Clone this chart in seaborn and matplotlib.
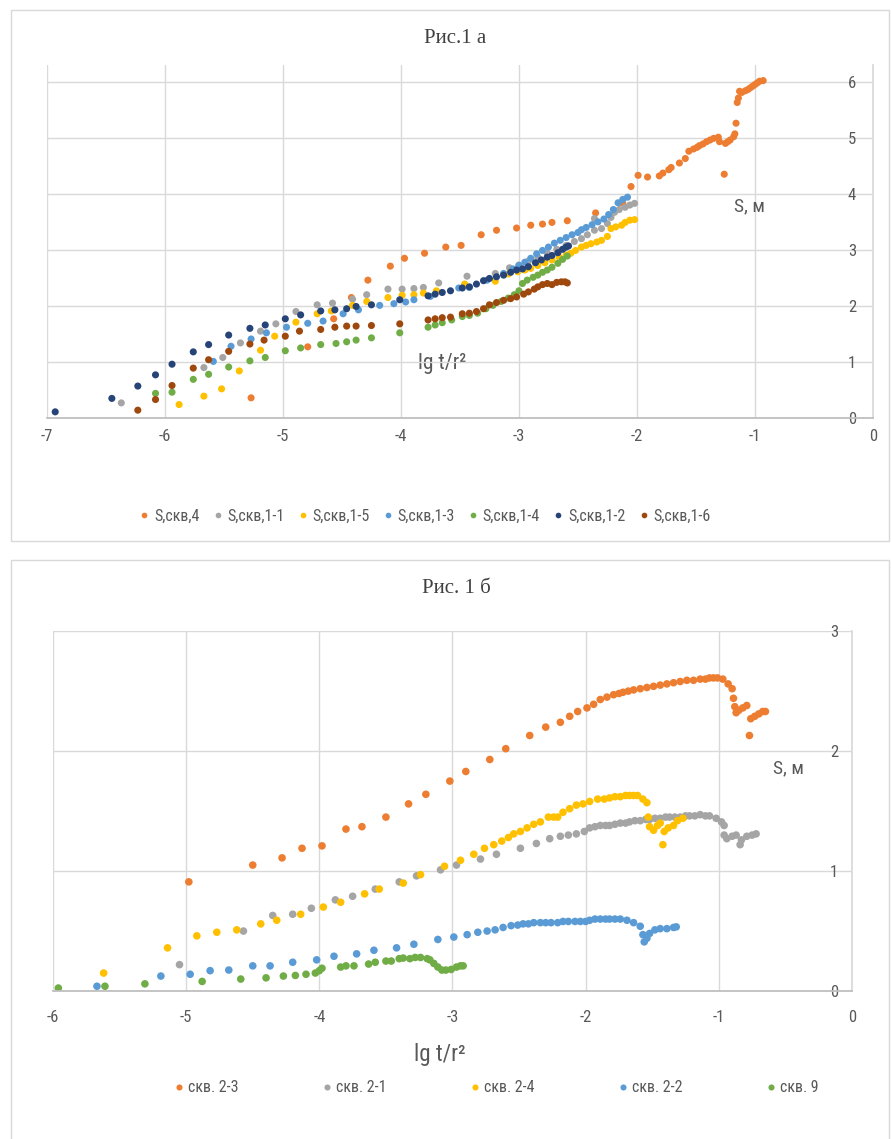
import numpy as np
import pandas as pd
import matplotlib
matplotlib.use("Agg")
import matplotlib.pyplot as plt
from matplotlib.patches import Rectangle
import seaborn as sns

# ---------- data, panel "a" (lg t/r^2, S m) ----------
names_a = ["S,скв,4", "S,скв,1-1", "S,скв,1-5", "S,скв,1-3",
           "S,скв,1-4", "S,скв,1-2", "S,скв,1-6"]
colors_a = ["#ED7D31", "#A5A5A5", "#FFC000", "#5B9BD5",
            "#70AD47", "#264478", "#9E480E"]

s4 = [(-5.27, 0.36), (-4.79, 1.27), (-4.57, 1.77), (-4.42, 2.15), (-4.28, 2.46),
      (-4.09, 2.71), (-3.97, 2.85), (-3.80, 2.94), (-3.62, 3.05), (-3.49, 3.08),
      (-3.32, 3.27), (-3.19, 3.35), (-3.02, 3.39), (-2.90, 3.44), (-2.80, 3.46),
      (-2.72, 3.49), (-2.59, 3.52), (-2.35, 3.66), (-2.12, 3.83), (-2.05, 4.13),
      (-1.99, 4.33), (-1.91, 4.30), (-1.81, 4.32), (-1.78, 4.37), (-1.73, 4.43),
      (-1.71, 4.47), (-1.64, 4.55), (-1.59, 4.63), (-1.56, 4.76), (-1.52, 4.80),
      (-1.49, 4.83), (-1.47, 4.86), (-1.44, 4.89), (-1.41, 4.93), (-1.38, 4.96),
      (-1.35, 4.99), (-1.31, 5.01), (-1.30, 4.93), (-1.26, 4.35), (-1.25, 4.90),
      (-1.23, 4.93), (-1.21, 4.96), (-1.18, 5.02), (-1.17, 5.07), (-1.16, 5.26),
      (-1.15, 5.63), (-1.14, 5.71), (-1.13, 5.83), (-1.11, 5.81), (-1.08, 5.84),
      (-1.06, 5.86), (-1.04, 5.89), (-1.02, 5.92), (-1.00, 5.95), (-0.98, 5.98),
      (-0.96, 6.01), (-0.93, 6.02)]
s11 = [(-6.37, 0.27), (-5.67, 0.90), (-5.51, 1.08), (-5.36, 1.34), (-5.19, 1.55),
       (-5.06, 1.68), (-4.89, 1.90), (-4.71, 2.02), (-4.58, 2.05), (-4.41, 2.12),
       (-4.29, 2.20), (-4.11, 2.30), (-3.99, 2.30), (-3.89, 2.31), (-3.81, 2.33),
       (-3.68, 2.41), (-3.44, 2.53), (-3.20, 2.58), (-3.08, 2.68), (-3.00, 2.73),
       (-2.92, 2.80), (-2.84, 2.87), (-2.76, 2.94), (-2.68, 3.01), (-2.60, 3.08),
       (-2.53, 3.15), (-2.47, 3.20), (-2.42, 3.27), (-2.36, 3.35), (-2.36, 3.56),
       (-2.30, 3.38), (-2.25, 3.47), (-2.22, 3.58), (-2.19, 3.67), (-2.15, 3.72),
       (-2.10, 3.76), (-2.06, 3.80), (-2.02, 3.83)]
s15 = [(-5.88, 0.24), (-5.67, 0.39), (-5.52, 0.52), (-5.37, 0.84), (-5.19, 1.21),
       (-5.07, 1.46), (-4.89, 1.71), (-4.71, 1.86), (-4.59, 1.91), (-4.41, 2.01),
       (-4.29, 2.08), (-4.11, 2.15), (-3.99, 2.19), (-3.89, 2.20), (-3.81, 2.23),
       (-3.70, 2.27), (-3.46, 2.39), (-3.20, 2.44), (-3.09, 2.57), (-3.01, 2.61),
       (-2.95, 2.64), (-2.90, 2.67), (-2.84, 2.72), (-2.78, 2.77), (-2.72, 2.82),
       (-2.66, 2.87), (-2.60, 2.91), (-2.56, 2.94), (-2.52, 2.99), (-2.47, 3.05),
       (-2.43, 3.08), (-2.39, 3.11), (-2.34, 3.14), (-2.30, 3.17), (-2.25, 3.24),
       (-2.22, 3.38), (-2.18, 3.41), (-2.13, 3.44), (-2.10, 3.49), (-2.06, 3.53),
       (-2.02, 3.54)]
s13 = [(-5.59, 1.01), (-5.44, 1.28), (-5.27, 1.41), (-5.14, 1.52), (-4.97, 1.62),
       (-4.79, 1.69), (-4.66, 1.73), (-4.49, 1.86), (-4.36, 1.93), (-4.18, 2.01),
       (-4.06, 2.04), (-3.96, 2.07), (-3.89, 2.11), (-3.75, 2.17), (-3.51, 2.32),
       (-3.42, 2.33), (-3.27, 2.46), (-3.13, 2.58), (-3.05, 2.66), (-3.00, 2.72),
       (-2.95, 2.78), (-2.90, 2.85), (-2.85, 2.93), (-2.80, 2.99), (-2.75, 3.05),
       (-2.70, 3.12), (-2.65, 3.17), (-2.60, 3.22), (-2.55, 3.27), (-2.50, 3.31),
       (-2.47, 3.36), (-2.43, 3.40), (-2.38, 3.45), (-2.33, 3.50), (-2.28, 3.55),
       (-2.24, 3.63), (-2.20, 3.72), (-2.16, 3.84), (-2.12, 3.90), (-2.08, 3.94)]
s14 = [(-6.08, 0.44), (-5.94, 0.46), (-5.76, 0.69), (-5.63, 0.78), (-5.46, 0.91),
       (-5.28, 1.02), (-5.15, 1.08), (-4.98, 1.20), (-4.85, 1.25), (-4.68, 1.31),
       (-4.55, 1.33), (-4.46, 1.36), (-4.38, 1.39), (-4.25, 1.43), (-4.01, 1.52),
       (-3.77, 1.62), (-3.71, 1.66), (-3.65, 1.70), (-3.57, 1.75), (-3.48, 1.81),
       (-3.42, 1.83), (-3.35, 1.87), (-3.28, 1.95), (-3.22, 2.01), (-3.15, 2.08),
       (-3.09, 2.14), (-3.04, 2.20), (-3.00, 2.27), (-2.97, 2.40), (-2.93, 2.46),
       (-2.88, 2.51), (-2.84, 2.55), (-2.80, 2.60), (-2.76, 2.64), (-2.72, 2.69),
       (-2.67, 2.76), (-2.63, 2.83), (-2.59, 2.89)]
s12 = [(-6.93, 0.11), (-6.45, 0.35), (-6.23, 0.57), (-6.08, 0.77), (-5.94, 0.96),
       (-5.76, 1.18), (-5.63, 1.31), (-5.46, 1.48), (-5.28, 1.60), (-5.15, 1.66),
       (-4.98, 1.77), (-4.85, 1.84), (-4.68, 1.91), (-4.56, 1.93), (-4.46, 1.95),
       (-4.38, 1.99), (-4.25, 2.02), (-4.01, 2.11), (-3.77, 2.18), (-3.71, 2.21),
       (-3.65, 2.24), (-3.58, 2.27), (-3.48, 2.32), (-3.42, 2.34), (-3.36, 2.39),
       (-3.30, 2.45), (-3.25, 2.49), (-3.19, 2.52), (-3.13, 2.55), (-3.07, 2.60),
       (-3.02, 2.64), (-2.97, 2.66), (-2.92, 2.70), (-2.86, 2.77), (-2.81, 2.82),
       (-2.76, 2.87), (-2.72, 2.90), (-2.67, 2.95), (-2.63, 3.01), (-2.60, 3.05),
       (-2.58, 3.07)]
s16 = [(-6.23, 0.14), (-6.08, 0.33), (-5.94, 0.58), (-5.76, 0.89), (-5.63, 1.04),
       (-5.46, 1.19), (-5.28, 1.32), (-5.16, 1.39), (-4.98, 1.46), (-4.86, 1.55),
       (-4.68, 1.58), (-4.56, 1.62), (-4.46, 1.64), (-4.38, 1.64), (-4.25, 1.65),
       (-4.01, 1.68), (-3.77, 1.75), (-3.71, 1.77), (-3.65, 1.79), (-3.58, 1.80),
       (-3.48, 1.86), (-3.42, 1.87), (-3.36, 1.90), (-3.30, 1.95), (-3.25, 2.02),
       (-3.19, 2.06), (-3.13, 2.10), (-3.07, 2.13), (-3.02, 2.16), (-2.96, 2.21),
       (-2.92, 2.25), (-2.87, 2.30), (-2.84, 2.34), (-2.80, 2.38), (-2.76, 2.40),
       (-2.72, 2.38), (-2.68, 2.42), (-2.64, 2.43), (-2.61, 2.43), (-2.59, 2.41)]
series_a = [s4, s11, s15, s13, s14, s12, s16]

# ---------- data, panel "б" ----------
names_b = ["скв. 2-3", "скв. 2-1", "скв. 2-4", "скв. 2-2", "скв. 9"]
colors_b = ["#ED7D31", "#A5A5A5", "#FFC000", "#5B9BD5", "#70AD47"]

w23 = [(-4.98, 0.91), (-4.50, 1.05), (-4.28, 1.11), (-4.13, 1.19), (-3.98, 1.21),
       (-3.80, 1.35), (-3.68, 1.37), (-3.50, 1.45), (-3.33, 1.56), (-3.20, 1.64),
       (-3.02, 1.75), (-2.90, 1.83), (-2.72, 1.93), (-2.60, 2.02), (-2.42, 2.13),
       (-2.30, 2.20), (-2.19, 2.24), (-2.12, 2.29), (-2.06, 2.33), (-1.99, 2.36),
       (-1.94, 2.39), (-1.89, 2.43), (-1.84, 2.45), (-1.79, 2.47), (-1.75, 2.48),
       (-1.72, 2.49), (-1.68, 2.50), (-1.64, 2.51), (-1.59, 2.52), (-1.54, 2.53),
       (-1.49, 2.54), (-1.44, 2.55), (-1.39, 2.56), (-1.34, 2.57), (-1.29, 2.58),
       (-1.24, 2.59), (-1.19, 2.59), (-1.14, 2.60), (-1.10, 2.60), (-1.07, 2.61),
       (-1.04, 2.61), (-1.01, 2.61), (-0.97, 2.60), (-0.93, 2.56), (-0.90, 2.52),
       (-0.89, 2.44), (-0.88, 2.37), (-0.87, 2.32), (-0.85, 2.34), (-0.82, 2.36),
       (-0.79, 2.38), (-0.77, 2.13), (-0.76, 2.27), (-0.73, 2.29), (-0.70, 2.31),
       (-0.67, 2.33), (-0.65, 2.33)]
w21 = [(-5.05, 0.22), (-4.57, 0.50), (-4.35, 0.63), (-4.20, 0.64), (-4.06, 0.69),
       (-3.88, 0.76), (-3.75, 0.79), (-3.58, 0.85), (-3.40, 0.91), (-3.27, 0.96),
       (-3.09, 1.01), (-2.97, 1.05), (-2.79, 1.10), (-2.67, 1.14), (-2.49, 1.19),
       (-2.37, 1.23), (-2.27, 1.27), (-2.19, 1.29), (-2.13, 1.30), (-2.07, 1.31),
       (-2.01, 1.33), (-1.97, 1.36), (-1.93, 1.37), (-1.89, 1.38), (-1.85, 1.38),
       (-1.82, 1.38), (-1.78, 1.39), (-1.74, 1.40), (-1.70, 1.40), (-1.67, 1.41),
       (-1.63, 1.42), (-1.59, 1.42), (-1.55, 1.43), (-1.52, 1.43), (-1.48, 1.44),
       (-1.44, 1.44), (-1.40, 1.45), (-1.37, 1.45), (-1.33, 1.45), (-1.29, 1.45),
       (-1.25, 1.46), (-1.22, 1.46), (-1.18, 1.46), (-1.14, 1.47), (-1.10, 1.46),
       (-1.07, 1.46), (-1.02, 1.44), (-0.98, 1.41), (-0.96, 1.38), (-0.96, 1.30),
       (-0.94, 1.27), (-0.90, 1.29), (-0.87, 1.30), (-0.84, 1.22), (-0.83, 1.26),
       (-0.79, 1.29), (-0.75, 1.30), (-0.72, 1.31)]
w24 = [(-5.62, 0.15), (-5.14, 0.36), (-4.92, 0.46), (-4.77, 0.49), (-4.62, 0.51),
       (-4.44, 0.56), (-4.32, 0.59), (-4.14, 0.64), (-3.97, 0.70), (-3.84, 0.74),
       (-3.66, 0.81), (-3.55, 0.85), (-3.37, 0.90), (-3.24, 0.97), (-3.06, 1.04),
       (-2.94, 1.09), (-2.84, 1.14), (-2.76, 1.19), (-2.69, 1.22), (-2.63, 1.25),
       (-2.58, 1.28), (-2.54, 1.31), (-2.49, 1.33), (-2.44, 1.36), (-2.39, 1.39),
       (-2.34, 1.41), (-2.28, 1.45), (-2.24, 1.45), (-2.21, 1.45), (-2.17, 1.49),
       (-2.12, 1.52), (-2.07, 1.55), (-2.02, 1.56), (-1.97, 1.58), (-1.91, 1.60),
       (-1.86, 1.60), (-1.82, 1.61), (-1.78, 1.62), (-1.74, 1.62), (-1.70, 1.63),
       (-1.67, 1.63), (-1.64, 1.63), (-1.61, 1.63), (-1.57, 1.60), (-1.54, 1.57),
       (-1.53, 1.45), (-1.52, 1.37), (-1.49, 1.34), (-1.46, 1.38), (-1.44, 1.40),
       (-1.42, 1.22), (-1.41, 1.33), (-1.38, 1.36), (-1.34, 1.38), (-1.31, 1.42),
       (-1.27, 1.44)]
w22 = [(-5.67, 0.04), (-5.19, 0.125), (-4.97, 0.14), (-4.82, 0.17), (-4.68, 0.175),
       (-4.50, 0.21), (-4.37, 0.21), (-4.20, 0.24), (-4.02, 0.26), (-3.89, 0.29),
       (-3.72, 0.31), (-3.59, 0.34), (-3.42, 0.36), (-3.29, 0.39), (-3.11, 0.43),
       (-2.99, 0.45), (-2.89, 0.47), (-2.81, 0.49), (-2.74, 0.50), (-2.68, 0.51),
       (-2.62, 0.53), (-2.56, 0.545), (-2.51, 0.55), (-2.47, 0.56), (-2.43, 0.56),
       (-2.39, 0.57), (-2.34, 0.57), (-2.30, 0.57), (-2.26, 0.57), (-2.21, 0.57),
       (-2.17, 0.58), (-2.13, 0.58), (-2.08, 0.58), (-2.04, 0.58), (-2.00, 0.58),
       (-1.97, 0.59), (-1.93, 0.60), (-1.89, 0.60), (-1.85, 0.60), (-1.82, 0.60),
       (-1.78, 0.60), (-1.74, 0.60), (-1.69, 0.59), (-1.64, 0.57), (-1.59, 0.54),
       (-1.57, 0.47), (-1.56, 0.41), (-1.54, 0.44), (-1.52, 0.48), (-1.48, 0.51),
       (-1.44, 0.52), (-1.39, 0.52), (-1.34, 0.53), (-1.32, 0.535)]
w9 = [(-5.96, 0.025), (-5.61, 0.04), (-5.31, 0.06), (-4.88, 0.08), (-4.59, 0.10),
      (-4.40, 0.11), (-4.27, 0.125), (-4.18, 0.13), (-4.10, 0.14), (-4.03, 0.15),
      (-4.00, 0.17), (-3.98, 0.19), (-3.84, 0.20), (-3.80, 0.21), (-3.74, 0.21),
      (-3.63, 0.225), (-3.58, 0.24), (-3.50, 0.25), (-3.46, 0.25), (-3.40, 0.27),
      (-3.37, 0.275), (-3.32, 0.27), (-3.28, 0.28), (-3.24, 0.28), (-3.19, 0.27),
      (-3.17, 0.26), (-3.14, 0.23), (-3.11, 0.20), (-3.08, 0.175), (-3.05, 0.175),
      (-3.01, 0.18), (-2.97, 0.20), (-2.94, 0.21), (-2.92, 0.21)]
series_b = [w23, w21, w24, w22, w9]


def to_frame(names, series):
    parts = []
    for name, pts in zip(names, series):
        d = pd.DataFrame(pts, columns=["x", "y"])
        d["series"] = name
        parts.append(d)
    return pd.concat(parts, ignore_index=True)


df_a = to_frame(names_a, series_a)
df_b = to_frame(names_b, series_b)

sns.set_theme(style="white")
# narrow sans first if it is there, otherwise Liberation Sans
plt.rcParams["font.family"] = ["Liberation Sans Narrow", "Roboto Condensed",
                               "Liberation Sans", "DejaVu Sans"]
plt.rcParams["axes.unicode_minus"] = False

TXT = "#595959"
GRID = "#D9D9D9"

fig = plt.figure(figsize=(8.91, 11.39), dpi=100)

# light frames around the two chart panels
fig.patches.append(Rectangle((11 / 891, 1 - 541 / 1139), 878 / 891, 531 / 1139,
                             transform=fig.transFigure, fill=False,
                             edgecolor=GRID, lw=1))
fig.patches.append(Rectangle((11 / 891, -0.01), 878 / 891, 1 - 560 / 1139 + 0.01,
                             transform=fig.transFigure, fill=False,
                             edgecolor=GRID, lw=1))

ax1 = fig.add_axes([0.0527, 0.633, 0.927, 0.310])
ax2 = fig.add_axes([0.0595, 0.1299, 0.8967, 0.316])


def style_axes(ax, xticks, yticks, ylim, ypad, xpad):
    ax.set_xlim(xticks[0], xticks[-1])
    ax.set_ylim(*ylim)
    ax.set_xticks(xticks)
    ax.set_yticks(yticks)
    ax.grid(True, color=GRID, lw=1)
    ax.set_axisbelow(True)
    for side in ["top", "left"]:
        ax.spines[side].set_visible(False)
    ax.spines["right"].set_color(GRID)
    ax.spines["bottom"].set_color("#BFBFBF")
    ax.spines["bottom"].set_linewidth(1.3)
    ax.yaxis.tick_right()
    ax.tick_params(axis="y", length=0, pad=ypad, labelsize=12, labelcolor=TXT)
    ax.tick_params(axis="x", length=0, pad=xpad, labelsize=12, labelcolor=TXT)
    plt.setp(ax.get_yticklabels(), ha="right")


# Рис.1 а
sns.scatterplot(data=df_a, x="x", y="y", hue="series", palette=colors_a,
                s=26, edgecolor="none", linewidth=0, ax=ax1)
style_axes(ax1, np.arange(-7, 1), np.arange(0, 7), (0, 6.3), -12, 8)
ax1.set_xlabel("lg t/r²", fontsize=15.5, color=TXT)
ax1.xaxis.set_label_coords(0.478, 0.185)
ax1.set_ylabel("S, м", fontsize=14, color=TXT, rotation=0)
ax1.yaxis.set_label_coords(0.85, 0.575)
sns.move_legend(ax1, "center", bbox_to_anchor=(0.477, 0.547),
                bbox_transform=fig.transFigure, ncol=7, frameon=False,
                title=None, fontsize=11.5, handlelength=0.6, handletextpad=0.3,
                columnspacing=0.85, markerscale=0.8)
fig.text(0.511, 0.9666, "Рис.1 а", ha="center", va="center", fontsize=15,
         family="Liberation Serif", color="#404040")

# Рис. 1 б
sns.scatterplot(data=df_b, x="x", y="y", hue="series", palette=colors_b,
                s=30, edgecolor="none", linewidth=0, ax=ax2)
style_axes(ax2, np.arange(-6, 1), np.arange(0, 4), (0, 3), -10, 14)
ax2.set_xlabel("lg t/r²", fontsize=16.5, color=TXT)
ax2.xaxis.set_label_coords(0.484, -0.145)
ax2.set_ylabel("S, м", fontsize=14, color=TXT, rotation=0)
ax2.yaxis.set_label_coords(0.92, 0.595)
sns.move_legend(ax2, "center", bbox_to_anchor=(0.557, 0.0448),
                bbox_transform=fig.transFigure, ncol=5, frameon=False,
                title=None, fontsize=11.5, handlelength=0.6, handletextpad=0.3,
                columnspacing=5.2, markerscale=0.8)
fig.text(0.512, 0.4829, "Рис. 1 б", ha="center", va="center", fontsize=15,
         family="Liberation Serif", color="#404040")

for leg in [ax1.get_legend(), ax2.get_legend()]:
    for t in leg.get_texts():
        t.set_color(TXT)

fig.savefig("out.png", dpi=100)
